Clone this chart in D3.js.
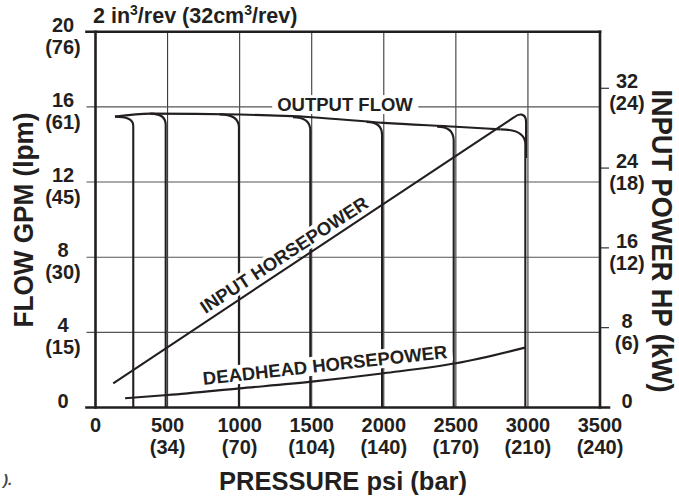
<!DOCTYPE html>
<html lang="en">
<head>
<meta charset="UTF-8">
<title>Pump performance</title>
<script src="https://cdn.jsdelivr.net/npm/d3@7"></script>
<style>
  body { margin: 0; background: #fff; }
  text { font-family: "Liberation Sans", Arial, sans-serif; font-weight: bold; fill: #231f20; }
</style>
</head>
<body>
<script>
// pressure axis (psi) and the bar equivalents under it
const psiTicks = [0, 500, 1000, 1500, 2000, 2500, 3000, 3500]
const barLabels = ['', '(34)', '(70)', '(104)', '(140)', '(170)', '(210)', '(240)']
// flow axis (gpm / lpm)
const gpmTicks = [0, 4, 8, 12, 16, 20]
const lpmLabels = ['', '(15)', '(30)', '(45)', '(61)', '(76)']
// power axis (hp / kW)
const hpTicks = [0, 8, 16, 24, 32]
const kwLabels = ['', '(6)', '(12)', '(18)', '(24)']

// output flow, the top edge
const flowPsi = [135, 380, 1000, 1500, 2000, 2500, 2810]
const flowGpm = [15.48, 15.64, 15.59, 15.45, 15.15, 14.94, 14.8]
// relief cut-offs: knee start, vertical drop pressure, flow where it goes straight down
const cutStartPsi = [135, 380, 860, 1370, 1880, 2370, 2810]
const cutStartGpm = [15.48, 15.64, 15.6, 15.45, 15.2, 14.95, 14.8]
const cutPsi = [262, 487, 995, 1490, 1988, 2485, 2982]
const cutKneeGpm = [15.0, 15.05, 14.9, 14.75, 14.5, 14.2, 14.0]

// input horsepower (straight run, then rounded top and drop at relief)
const inputPsi = [123, 2905, 2935, 2987, 2987, 2987]
const inputHp = [2.43, 29.1, 29.45, 29.6, 28.6, 25]
// deadhead horsepower
const deadPsi = [205, 500, 1000, 1500, 2000, 2500, 2980]
const deadHp = [0.92, 1.25, 1.92, 2.59, 3.43, 4.43, 6.0]

const W = 679, H = 501
const ink = '#231f20'
const svg = d3.select('body').append('svg').attr('width', W).attr('height', H)

const x = d3.scaleLinear().domain([0, 3500]).range([95.5, 600])
const y = d3.scaleLinear().domain([0, 20]).range([407.5, 31.7])
const yHp = d3.scaleLinear().domain([0, 37.67]).range([407.5, 31.7])

// grid
svg.append('g').selectAll('line').data(psiTicks.slice(1, -1)).enter().append('line')
  .attr('x1', d => x(d)).attr('x2', d => x(d))
  .attr('y1', y(20)).attr('y2', y(0))
  .attr('stroke', '#3a3a3a').attr('stroke-width', 1.1)
svg.append('g').selectAll('line').data(gpmTicks.slice(1, -1)).enter().append('line')
  .attr('x1', x(0) - 9).attr('x2', x(3500))
  .attr('y1', d => y(d)).attr('y2', d => y(d))
  .attr('stroke', '#555').attr('stroke-width', 1.1)
// short ticks on the power side
svg.append('g').selectAll('line').data(hpTicks.slice(1)).enter().append('line')
  .attr('x1', x(3500)).attr('x2', x(3500) + 9)
  .attr('y1', d => yHp(d)).attr('y2', d => yHp(d))
  .attr('stroke', ink).attr('stroke-width', 1.1)

// frame
const frame = svg.append('g').attr('stroke', ink).attr('stroke-width', 2.6).attr('stroke-linecap', 'square')
frame.append('line').attr('x1', x(0) - 9).attr('x2', x(3500)).attr('y1', y(20)).attr('y2', y(20))
frame.append('line').attr('x1', x(0) - 9).attr('x2', x(3500) + 9).attr('y1', y(0)).attr('y2', y(0))
frame.append('line').attr('x1', x(0)).attr('x2', x(0)).attr('y1', y(20)).attr('y2', y(0))
frame.append('line').attr('x1', x(3500)).attr('x2', x(3500)).attr('y1', y(20)).attr('y2', y(0))

// output flow
const curves = svg.append('g').attr('fill', 'none').attr('stroke', ink)
  .attr('stroke-width', 2.1).attr('stroke-linejoin', 'round')
const flowLine = d3.line().x(d => x(d[0])).y(d => y(d[1])).curve(d3.curveMonotoneX)
curves.append('path').attr('d', flowLine(d3.zip(flowPsi, flowGpm)))
cutPsi.forEach((p, i) => {
  const path = d3.path()
  path.moveTo(x(cutStartPsi[i]), y(cutStartGpm[i]))
  path.quadraticCurveTo(x(p), y(cutStartGpm[i]), x(p), y(cutKneeGpm[i]))
  path.lineTo(x(p), y(0))
  curves.append('path').attr('d', path.toString())
})

// curve labels with a white patch behind
function label(txt, px, py, angle) {
  const g = svg.append('g').attr('transform', `translate(${px},${py}) rotate(${angle})`)
  const rect = g.append('rect').attr('fill', '#fff')
  const t = g.append('text').attr('text-anchor', 'middle').attr('dy', '0.35em')
    .attr('font-size', 18.5).text(txt)
  const b = t.node().getBBox()
  rect.attr('x', b.x - 5).attr('y', b.y + 1).attr('width', b.width + 10).attr('height', b.height - 2)
}
label('OUTPUT FLOW', x(1731), y(16.12), 0)
label('INPUT HORSEPOWER', x(1308), yHp(15.3), -33.3)
label('DEADHEAD HORSEPOWER', x(1592), yHp(4.26), -6.3)

// horsepower curves
const hpCurves = svg.append('g').attr('fill', 'none').attr('stroke', ink)
  .attr('stroke-width', 2.1).attr('stroke-linejoin', 'round')
const inPts = d3.zip(inputPsi, inputHp)
const inPath = d3.path()
inPath.moveTo(x(inPts[0][0]), yHp(inPts[0][1]))
inPath.lineTo(x(inPts[1][0]), yHp(inPts[1][1]))
inPath.bezierCurveTo(x(inPts[2][0]), yHp(inPts[2][1]), x(inPts[3][0]), yHp(inPts[3][1]),
  x(inPts[4][0]), yHp(inPts[4][1]))
inPath.lineTo(x(inPts[5][0]), yHp(inPts[5][1]))
hpCurves.append('path').attr('d', inPath.toString())
const deadLine = d3.line().x(d => x(d[0])).y(d => yHp(d[1])).curve(d3.curveMonotoneX)
hpCurves.append('path').attr('d', deadLine(d3.zip(deadPsi, deadHp)))

// tick labels
const xl = svg.append('g').attr('font-size', 20).attr('text-anchor', 'middle')
psiTicks.forEach((p, i) => {
  xl.append('text').attr('x', x(p)).attr('y', 432).text(p)
  if (barLabels[i]) xl.append('text').attr('x', x(p)).attr('y', 454).text(barLabels[i])
})
const yl = svg.append('g').attr('font-size', 20).attr('text-anchor', 'middle')
gpmTicks.forEach((g, i) => {
  yl.append('text').attr('x', 63).attr('y', y(g)).text(g)
  if (lpmLabels[i]) yl.append('text').attr('x', 63).attr('y', y(g) + 22).text(lpmLabels[i])
})
const hl = svg.append('g').attr('font-size', 20).attr('text-anchor', 'middle')
hpTicks.forEach((h, i) => {
  hl.append('text').attr('x', 627).attr('y', yHp(h)).text(h)
  if (kwLabels[i]) hl.append('text').attr('x', 627).attr('y', yHp(h) + 22).text(kwLabels[i])
})

// titles
const headline = svg.append('text').attr('x', 93).attr('y', 23).attr('font-size', 21.5)
headline.append('tspan').text('2 in')
headline.append('tspan').attr('font-size', 14).attr('dy', -8).text('3')
headline.append('tspan').attr('dy', 8).text('/rev (32cm')
headline.append('tspan').attr('font-size', 14).attr('dy', -8).text('3')
headline.append('tspan').attr('dy', 8).text('/rev)')

svg.append('text').attr('x', 343).attr('y', 490).attr('font-size', 25.5)
  .attr('text-anchor', 'middle').text('PRESSURE psi (bar)')
svg.append('text').attr('transform', 'translate(33,220) rotate(-90)')
  .attr('font-size', 28).attr('text-anchor', 'middle')
  .attr('textLength', 215).attr('lengthAdjust', 'spacingAndGlyphs')
  .text('FLOW GPM (lpm)')
svg.append('text').attr('transform', 'translate(652,241) rotate(90)')
  .attr('font-size', 30).attr('text-anchor', 'middle')
  .attr('textLength', 303).attr('lengthAdjust', 'spacingAndGlyphs')
  .text('INPUT POWER HP (kW)')

// caption fragment at the lower left
svg.append('text').attr('x', 3).attr('y', 485)
  .attr('font-size', 15).attr('font-weight', 'normal').attr('font-style', 'italic')
  .style('fill', '#444').text(').')
</script>
</body>
</html>
